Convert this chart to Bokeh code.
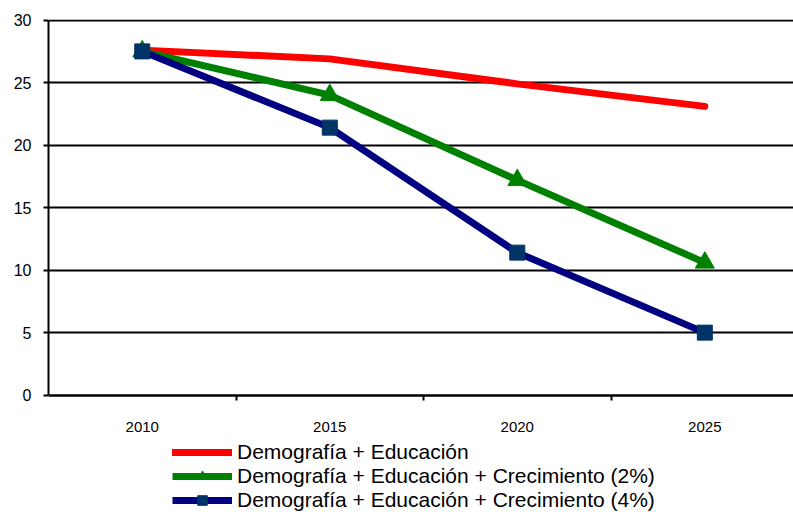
from bokeh.plotting import figure
from bokeh.models import Range1d, FixedTicker, Legend, LegendItem, LinearAxis
from bokeh.embed import file_html
from bokeh.resources import INLINE

years = ["2010", "2015", "2020", "2025"]
demo_edu = [27.6, 26.9, 24.9, 23.1]
demo_edu_g2 = [27.5, 24.0, 17.2, 10.6]
demo_edu_g4 = [27.5, 21.4, 11.4, 5.0]
series_names = [
    "Demografía + Educación",
    "Demografía + Educación + Crecimiento (2%)",
    "Demografía + Educación + Crecimiento (4%)",
]
y_ticks = [0, 5, 10, 15, 20, 25, 30]

FONT = "Liberation Sans"
xs = [i + 0.5 for i in range(len(years))]

# frame extends to the bottom of the page; the area below y=0 holds labels & legend
p = figure(width=793, height=512, output_backend="svg", toolbar_location=None,
           x_range=Range1d(0, 3.973), y_range=Range1d(-9.39, 30.05),
           x_axis_location=None,
           min_border_left=48, min_border_right=0, min_border_top=19, min_border_bottom=0)
p.outline_line_color = None
p.background_fill_color = "white"

# y axis
p.yaxis.ticker = FixedTicker(ticks=y_ticks)
p.yaxis.bounds = (0, 30)
p.yaxis.axis_line_color = "black"
p.yaxis.axis_line_width = 2
p.yaxis.major_tick_line_width = 2
p.yaxis.major_tick_out = 5
p.yaxis.major_tick_in = 0
p.yaxis.minor_tick_line_color = None
p.yaxis.major_label_standoff = 12
p.yaxis.major_label_text_font = FONT
p.yaxis.major_label_text_font_size = "16px"
p.yaxis.major_label_text_color = "black"

# x axis drawn at y = 0
xaxis = LinearAxis(fixed_location=0)
xaxis.ticker = FixedTicker(ticks=xs, minor_ticks=[1, 2, 3])
xaxis.major_label_overrides = {x: y for x, y in zip(xs, years)}
xaxis.axis_line_color = "black"
xaxis.axis_line_width = 2
xaxis.major_tick_line_color = None
xaxis.major_tick_out = 0
xaxis.major_tick_in = 0
xaxis.minor_tick_line_color = "black"
xaxis.minor_tick_line_width = 2
xaxis.minor_tick_out = 5
xaxis.minor_tick_in = 0
xaxis.major_label_standoff = 22
xaxis.major_label_text_font = FONT
xaxis.major_label_text_font_size = "15px"
xaxis.major_label_text_color = "black"
p.add_layout(xaxis, "below")

p.xgrid.grid_line_color = None
p.ygrid.grid_line_color = "black"
p.ygrid.grid_line_width = 2
p.ygrid.ticker = FixedTicker(ticks=y_ticks)

r1 = p.line(xs, demo_edu, line_color="#FF0000", line_width=7, line_cap="round")
r2 = p.line(xs, demo_edu_g2, line_color="#008000", line_width=7)
m2 = p.scatter(xs, demo_edu_g2, marker="triangle", size=19, fill_color="#008000", line_color="#008000")
r3 = p.line(xs, demo_edu_g4, line_color="#000080", line_width=7)
m3 = p.scatter(xs, demo_edu_g4, marker="square", size=15, fill_color="#003366", line_color="#003366")

legend = Legend(items=[
    LegendItem(label=series_names[0], renderers=[r1]),
    LegendItem(label=series_names[1], renderers=[r2, m2]),
    LegendItem(label=series_names[2], renderers=[r3, m3]),
], location=(124, 0), orientation="vertical")
legend.border_line_color = None
legend.background_fill_alpha = 0
legend.padding = 0
legend.spacing = 0
legend.margin = 0
legend.label_height = 24
legend.glyph_height = 24
legend.glyph_width = 60
legend.label_standoff = 5
legend.label_text_font = FONT
legend.label_text_font_size = "21px"
legend.label_text_color = "black"
p.add_layout(legend, "center")

open("out.html", "w").write(file_html(p, INLINE))
